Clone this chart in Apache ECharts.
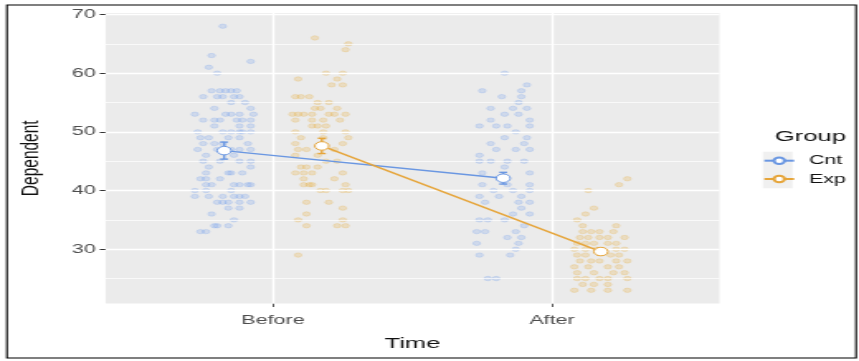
<!DOCTYPE html>
<html>
<head>
<meta charset="utf-8">
<script src="https://cdn.jsdelivr.net/npm/echarts@6/dist/echarts.min.js"></script>
<style>
    html, body { margin: 0; padding: 0; background: #fff; overflow: hidden; }
    /* the reference picture is stretched sideways, so the chart is drawn narrow and scaled */
    #chart { width: 520px; height: 361px; transform: scaleX(1.652); transform-origin: 0 0; }
</style>
</head>
<body>
<div id="chart"></div>
<script>
// categories and tick labels
const timeLabels = ['Before', 'After'];
const groupNames = ['Cnt', 'Exp'];
const yTicks = [30, 40, 50, 60, 70];
const yMinorTicks = [25, 35, 45, 55, 65];

// jittered raw points [x on time scale, Dependent]
const cntBefore = [
    [0.82, 68], [0.78, 63], [0.92, 62], [0.77, 61], [0.80, 60],
    [0.78, 57], [0.81, 57], [0.83, 57], [0.85, 57], [0.87, 57],
    [0.75, 56], [0.80, 56], [0.82, 56], [0.86, 56], [0.88, 56],
    [0.85, 55], [0.90, 55], [0.79, 54], [0.92, 54],
    [0.72, 53], [0.83, 53], [0.85, 53], [0.88, 53], [0.93, 53],
    [0.75, 52], [0.79, 52], [0.81, 52], [0.87, 52], [0.89, 52], [0.92, 52],
    [0.79, 51], [0.88, 51], [0.92, 51],
    [0.73, 50], [0.82, 50], [0.85, 50], [0.88, 50], [0.89, 50], [0.92, 50],
    [0.74, 49], [0.77, 49], [0.84, 49], [0.88, 49],
    [0.75, 48], [0.79, 48], [0.82, 48], [0.91, 48],
    [0.73, 47], [0.80, 47], [0.85, 47], [0.88, 47], [0.92, 47],
    [0.76, 46], [0.86, 46],
    [0.75, 45], [0.81, 45], [0.88, 45], [0.92, 45],
    [0.77, 44], [0.92, 44],
    [0.76, 43], [0.84, 43], [0.85, 43], [0.89, 43],
    [0.74, 42], [0.76, 42], [0.81, 42],
    [0.76, 41], [0.78, 41], [0.86, 41], [0.88, 41], [0.91, 41], [0.92, 41],
    [0.72, 40], [0.76, 40], [0.85, 40],
    [0.72, 39], [0.77, 39], [0.82, 39], [0.86, 39], [0.88, 39], [0.90, 39],
    [0.80, 38], [0.82, 38], [0.84, 38], [0.88, 38], [0.92, 38],
    [0.84, 37], [0.88, 37], [0.78, 36], [0.86, 35],
    [0.79, 34], [0.80, 34], [0.84, 34], [0.74, 33], [0.76, 33]
];
const expBefore = [
    [1.15, 66], [1.27, 65], [1.26, 64], [1.19, 60], [1.25, 60],
    [1.09, 59], [1.23, 59], [1.21, 58], [1.25, 58],
    [1.08, 56], [1.10, 56], [1.13, 56], [1.16, 55], [1.20, 55],
    [1.15, 54], [1.17, 54], [1.23, 54],
    [1.07, 53], [1.09, 53], [1.11, 53], [1.14, 53], [1.20, 53], [1.22, 53], [1.26, 53],
    [1.08, 52], [1.14, 52], [1.18, 52], [1.24, 52],
    [1.14, 51], [1.16, 51], [1.19, 51],
    [1.08, 50], [1.18, 50], [1.26, 50],
    [1.10, 49], [1.18, 49], [1.27, 49], [1.08, 48], [1.25, 48],
    [1.09, 47], [1.12, 47], [1.22, 47], [1.08, 46], [1.16, 46],
    [1.19, 45], [1.23, 45], [1.10, 44], [1.12, 44], [1.16, 44],
    [1.08, 43], [1.11, 43], [1.14, 43], [1.25, 43],
    [1.11, 42], [1.22, 42],
    [1.11, 41], [1.13, 41], [1.14, 41], [1.26, 41],
    [1.17, 40], [1.19, 40], [1.25, 40], [1.27, 40],
    [1.12, 38], [1.20, 38], [1.25, 37], [1.12, 36],
    [1.09, 35], [1.25, 35], [1.12, 34], [1.23, 34], [1.26, 34],
    [1.09, 29]
];
const cntAfter = [
    [1.83, 60], [1.91, 58], [1.75, 57], [1.89, 57], [1.82, 56], [1.89, 56], [1.88, 55],
    [1.78, 54], [1.86, 54], [1.91, 54], [1.83, 53], [1.88, 53], [1.78, 52], [1.92, 52],
    [1.74, 51], [1.80, 51], [1.84, 51], [1.92, 51], [1.87, 50],
    [1.83, 49], [1.91, 49], [1.78, 48], [1.90, 48],
    [1.80, 47], [1.87, 47], [1.92, 47], [1.74, 46],
    [1.74, 45], [1.78, 45], [1.84, 45], [1.90, 45], [1.83, 44],
    [1.75, 43], [1.92, 43],
    [1.75, 41], [1.84, 41], [1.92, 41], [1.79, 40], [1.86, 40], [1.92, 40],
    [1.74, 39], [1.81, 39], [1.89, 39], [1.76, 38], [1.88, 38], [1.92, 38],
    [1.89, 37], [1.86, 36], [1.92, 36], [1.74, 35], [1.77, 35], [1.83, 35],
    [1.90, 34], [1.73, 33], [1.76, 33], [1.87, 33], [1.84, 32], [1.89, 32],
    [1.73, 31], [1.88, 31], [1.87, 30], [1.74, 29], [1.85, 29], [1.77, 25], [1.80, 25]
];
const expAfter = [
    [2.27, 42], [2.24, 41], [2.13, 40], [2.15, 37], [2.12, 36], [2.09, 35],
    [2.11, 34], [2.23, 34],
    [2.11, 33], [2.14, 33], [2.17, 33], [2.22, 33],
    [2.10, 32], [2.13, 32], [2.17, 32], [2.20, 32], [2.26, 32],
    [2.09, 31], [2.12, 31], [2.15, 31], [2.20, 31], [2.23, 31],
    [2.08, 30], [2.12, 30], [2.16, 30], [2.23, 30], [2.26, 30],
    [2.09, 29], [2.12, 29], [2.21, 29], [2.24, 29],
    [2.10, 28], [2.14, 28], [2.17, 28], [2.23, 28], [2.27, 28],
    [2.08, 27], [2.13, 27], [2.20, 27], [2.24, 27],
    [2.09, 26], [2.15, 26], [2.22, 26], [2.26, 26],
    [2.09, 25], [2.12, 25], [2.17, 25], [2.20, 25], [2.27, 25],
    [2.11, 24], [2.15, 24], [2.20, 24],
    [2.08, 23], [2.14, 23], [2.20, 23], [2.27, 23]
];

// group means and standard errors (Before, After)
const cntMean = [46.8, 42.1];
const expMean = [47.6, 29.6];
const cntSe = [1.45, 1.0];
const expSe = [1.3, 0.6];

const blue = '#6A97E2';
const orange = '#E6A53A';
const dodge = 0.175;

const meanPoints = (means, side) => means.map((m, i) => [i + 1 + side * dodge, m]);
const errBars = (means, se, side) => means.map((m, i) => [i + 1 + side * dodge, m - se[i], m + se[i]]);

const errorSeries = (name, data, color) => ({
    name: name,
    type: 'custom',
    z: 4,
    silent: true,
    data: data,
    renderItem: (params, api) => {
        const x = api.value(0);
        const lo = api.coord([x, api.value(1)]);
        const hi = api.coord([x, api.value(2)]);
        const w = 2.4;
        const st = { stroke: color, lineWidth: 1.4 };
        return {
            type: 'group',
            children: [
                { type: 'line', shape: { x1: lo[0], y1: lo[1], x2: hi[0], y2: hi[1] }, style: st },
                { type: 'line', shape: { x1: lo[0] - w, y1: lo[1], x2: lo[0] + w, y2: lo[1] }, style: st },
                { type: 'line', shape: { x1: hi[0] - w, y1: hi[1], x2: hi[0] + w, y2: hi[1] }, style: st }
            ]
        };
    }
});

const pointSeries = (name, data, fill, stroke) => ({
    name: name,
    type: 'scatter',
    z: 3,
    symbolSize: 4.4,
    data: data,
    itemStyle: { color: fill, borderColor: stroke, borderWidth: 0.6 },
    silent: true
});

const gridLines = [];
yMinorTicks.forEach(v => gridLines.push({ yAxis: v, lineStyle: { width: 0.7 } }));
yTicks.forEach(v => gridLines.push({ yAxis: v, lineStyle: { width: 1.4 } }));
timeLabels.forEach((t, i) => gridLines.push({ xAxis: i + 1, lineStyle: { width: 1.4 } }));

const chart = echarts.init(document.getElementById('chart'));
const option = {
    animation: false,
    grid: {
        left: 63.9,
        right: 84.5,
        top: 13,
        bottom: 57.5,
        show: true,
        backgroundColor: '#EBEBEB',
        borderWidth: 0
    },
    xAxis: {
        type: 'value',
        min: 0.4,
        max: 2.6,
        name: 'Time',
        nameLocation: 'middle',
        nameGap: 32,
        nameTextStyle: { fontFamily: 'Liberation Sans', fontSize: 15.5, color: '#111' },
        axisLine: { show: false },
        splitLine: { show: false },
        axisTick: { show: true, length: 3.5, customValues: [1, 2], lineStyle: { color: '#333', width: 0.8 } },
        axisLabel: {
            customValues: [1, 2],
            margin: 10,
            fontFamily: 'Liberation Sans',
            fontSize: 13,
            color: '#4D4D4D',
            formatter: v => timeLabels[Math.round(v) - 1]
        }
    },
    yAxis: {
        type: 'value',
        min: 20.75,
        max: 70.25,
        name: 'Dependent',
        nameLocation: 'middle',
        nameGap: 37,
        nameTextStyle: { fontFamily: 'Liberation Sans', fontSize: 15.5, color: '#111' },
        axisLine: { show: false },
        splitLine: { show: false },
        axisTick: { show: true, length: 3.5, customValues: yTicks, lineStyle: { color: '#333', width: 1 } },
        axisLabel: {
            customValues: yTicks,
            margin: 6,
            fontFamily: 'Liberation Sans',
            fontSize: 13,
            color: '#4D4D4D'
        }
    },
    legend: {
        data: groupNames,
        orient: 'vertical',
        left: 461.7,
        top: 151.7,
        padding: 0,
        itemWidth: 18,
        itemHeight: 8,
        itemGap: 0.3,
        selectedMode: false,
        textStyle: {
            fontFamily: 'Liberation Sans',
            fontSize: 13,
            color: '#111',
            lineHeight: 18,
            padding: [0, 0, 0, 4]
        }
    },
    graphic: [
        {
            type: 'rect',
            z: -1,
            shape: { x: 461.7, y: 151.7, width: 18, height: 36.6 },
            style: { fill: '#F0F0F0' }
        },
        {
            type: 'text',
            left: 469, top: 129,
            style: { text: 'Group', fontFamily: 'Liberation Sans', fontSize: 15.5, fill: '#111' }
        },
        {
            type: 'rect',
            z: 10,
            shape: { x: 4.2, y: 5, width: 514, height: 353 },
            style: { fill: 'none', stroke: '#000', lineWidth: 1.1 }
        }
    ],
    series: [
        {
            name: 'grid',
            type: 'scatter',
            z: 1,
            data: [],
            silent: true,
            markLine: {
                silent: true,
                symbol: 'none',
                label: { show: false },
                lineStyle: { color: '#FFFFFF', type: 'solid' },
                data: gridLines
            }
        },
        pointSeries('Cnt points before', cntBefore, 'rgba(100,149,237,0.26)', 'rgba(100,149,237,0.4)'),
        pointSeries('Cnt points after', cntAfter, 'rgba(100,149,237,0.26)', 'rgba(100,149,237,0.4)'),
        pointSeries('Exp points before', expBefore, 'rgba(232,168,50,0.28)', 'rgba(232,168,50,0.42)'),
        pointSeries('Exp points after', expAfter, 'rgba(232,168,50,0.28)', 'rgba(232,168,50,0.42)'),
        {
            name: 'Cnt',
            type: 'line',
            z: 5,
            data: meanPoints(cntMean, -1),
            symbol: 'circle',
            symbolSize: 8.5,
            lineStyle: { color: blue, width: 1.5 },
            itemStyle: { color: '#FFFFFF', borderColor: blue, borderWidth: 1 }
        },
        {
            name: 'Exp',
            type: 'line',
            z: 5,
            data: meanPoints(expMean, 1),
            symbol: 'circle',
            symbolSize: 8.5,
            lineStyle: { color: orange, width: 1.5 },
            itemStyle: { color: '#FFFFFF', borderColor: orange, borderWidth: 1 }
        },
        errorSeries('Cnt se', errBars(cntMean, cntSe, -1), blue),
        errorSeries('Exp se', errBars(expMean, expSe, 1), orange)
    ]
};
chart.setOption(option);
</script>
</body>
</html>
